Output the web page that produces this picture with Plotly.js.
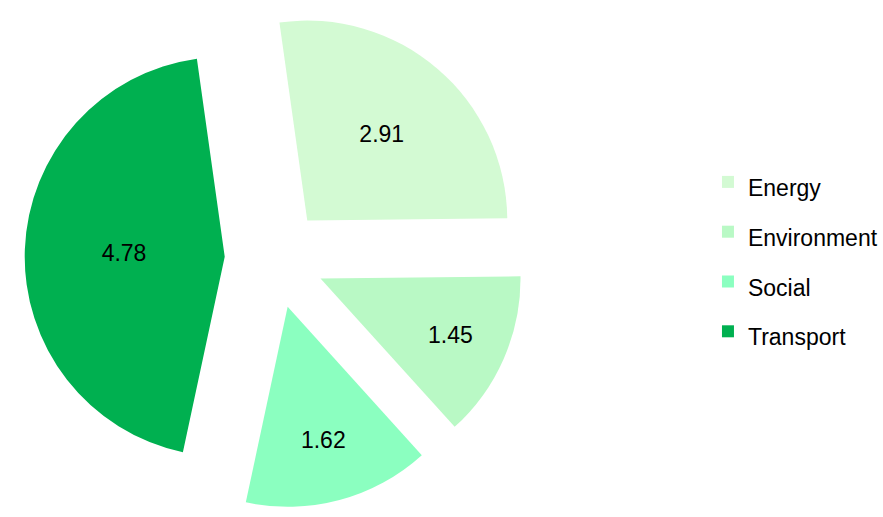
<!DOCTYPE html>
<html>
<head>
<meta charset="utf-8">
<script src="https://cdn.plot.ly/plotly-3.0.1.min.js"></script>
<style>html,body{margin:0;padding:0;background:#fff;}#chart{width:883px;height:517px;}</style>
</head>
<body>
<div id="chart"></div>
<script>
var categories = ['Energy', 'Environment', 'Social', 'Transport'];
var values = [2.91, 1.45, 1.62, 4.78];
var colors = ['#D3FAD3', '#B9F9C5', '#8BFFC0', '#00B050'];

var FONT = '"Liberation Sans", Arial, sans-serif';

var legendLabels = categories.map(function (c) {
  return '<span style="font-size:23px">' + c + '</span>';
});

var trace = {
  type: 'pie',
  labels: legendLabels,
  values: values,
  sort: false,
  direction: 'clockwise',
  rotation: -8,
  pull: [0.25, 0.25, 0.25, 0.25],
  marker: { colors: colors, line: { width: 0 } },
  textinfo: 'value',
  textposition: 'inside',
  insidetextorientation: 'horizontal',
  textfont: { family: FONT, size: 23, color: '#000000' },
  domain: { x: [0.0289, 0.6144], y: [0, 1] },
  hoverinfo: 'label+value'
};

var layout = {
  width: 883,
  height: 517,
  margin: { l: 0, r: 0, t: 0, b: 0 },
  paper_bgcolor: '#ffffff',
  showlegend: true,
  legend: {
    x: 0.829,
    xanchor: 'left',
    y: 0.706,
    yanchor: 'top',
    font: { family: FONT, size: 36, color: '#000000' },
    bgcolor: 'rgba(0,0,0,0)'
  }
};

Plotly.newPlot('chart', [trace], layout, { displayModeBar: false, staticPlot: true });
</script>
</body>
</html>
